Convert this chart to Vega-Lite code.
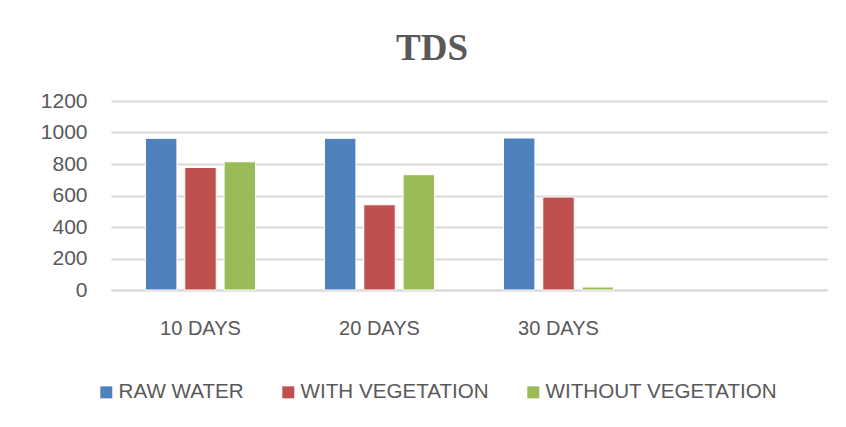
{
  "$schema": "https://vega.github.io/schema/vega-lite/v6.json",
  "width": 716,
  "height": 189,
  "autosize": {"type": "none"},
  "padding": {"left": 111, "top": 101, "right": 19, "bottom": 137},
  "background": "white",
  "title": {
    "text": "TDS",
    "font": "Liberation Serif",
    "fontSize": 37,
    "fontWeight": "bold",
    "color": "#595959",
    "anchor": "middle",
    "dx": -37,
    "baseline": "alphabetic",
    "offset": -7
  },
  "data": {
    "values": [
      {"period": "10 DAYS", "series": "RAW WATER", "value": 963},
      {"period": "10 DAYS", "series": "WITH VEGETATION", "value": 778},
      {"period": "10 DAYS", "series": "WITHOUT VEGETATION", "value": 814},
      {"period": "20 DAYS", "series": "RAW WATER", "value": 963},
      {"period": "20 DAYS", "series": "WITH VEGETATION", "value": 541},
      {"period": "20 DAYS", "series": "WITHOUT VEGETATION", "value": 732},
      {"period": "30 DAYS", "series": "RAW WATER", "value": 965},
      {"period": "30 DAYS", "series": "WITH VEGETATION", "value": 590},
      {"period": "30 DAYS", "series": "WITHOUT VEGETATION", "value": 19}
    ]
  },
  "mark": {"type": "bar", "stroke": "white", "strokeWidth": 1},
  "encoding": {
    "x": {
      "field": "period",
      "type": "nominal",
      "scale": {"domain": ["10 DAYS", "20 DAYS", "30 DAYS", " "], "paddingInner": 0.385, "paddingOuter": 0.1925},
      "axis": {
        "title": null,
        "labelAngle": 0,
        "labelFont": "Liberation Sans",
        "labelFontSize": 20,
        "labelColor": "#595959",
        "labelPadding": 28,
        "ticks": false,
        "domainColor": "#d9d9d9",
        "domainWidth": 2
      }
    },
    "xOffset": {
      "field": "series",
      "type": "nominal",
      "sort": ["RAW WATER", "WITH VEGETATION", "WITHOUT VEGETATION"],
      "scale": {"paddingInner": 0.2, "paddingOuter": 0}
    },
    "y": {
      "field": "value",
      "type": "quantitative",
      "scale": {"domain": [0, 1200]},
      "axis": {
        "title": null,
        "values": [0, 200, 400, 600, 800, 1000, 1200],
        "format": "d",
        "labelFont": "Liberation Sans",
        "labelFontSize": 21,
        "labelColor": "#595959",
        "labelPadding": 24,
        "ticks": false,
        "domain": false,
        "gridColor": "#d9d9d9",
        "gridWidth": 2
      }
    },
    "color": {
      "field": "series",
      "type": "nominal",
      "sort": ["RAW WATER", "WITH VEGETATION", "WITHOUT VEGETATION"],
      "scale": {
        "domain": ["RAW WATER", "WITH VEGETATION", "WITHOUT VEGETATION"],
        "range": ["#4F81BD", "#C0504D", "#9BBB59"]
      },
      "legend": {
        "title": null,
        "orient": "none",
        "direction": "horizontal",
        "legendX": -15,
        "legendY": 281,
        "symbolType": "square",
        "symbolSize": 144,
        "symbolStrokeWidth": 0,
        "labelFont": "Liberation Sans",
        "labelFontSize": 20.6,
        "labelColor": "#595959",
        "labelOffset": 2,
        "columnPadding": 34,
        "labelLimit": 400
      }
    }
  },
  "config": {
    "view": {"stroke": null}
  }
}
